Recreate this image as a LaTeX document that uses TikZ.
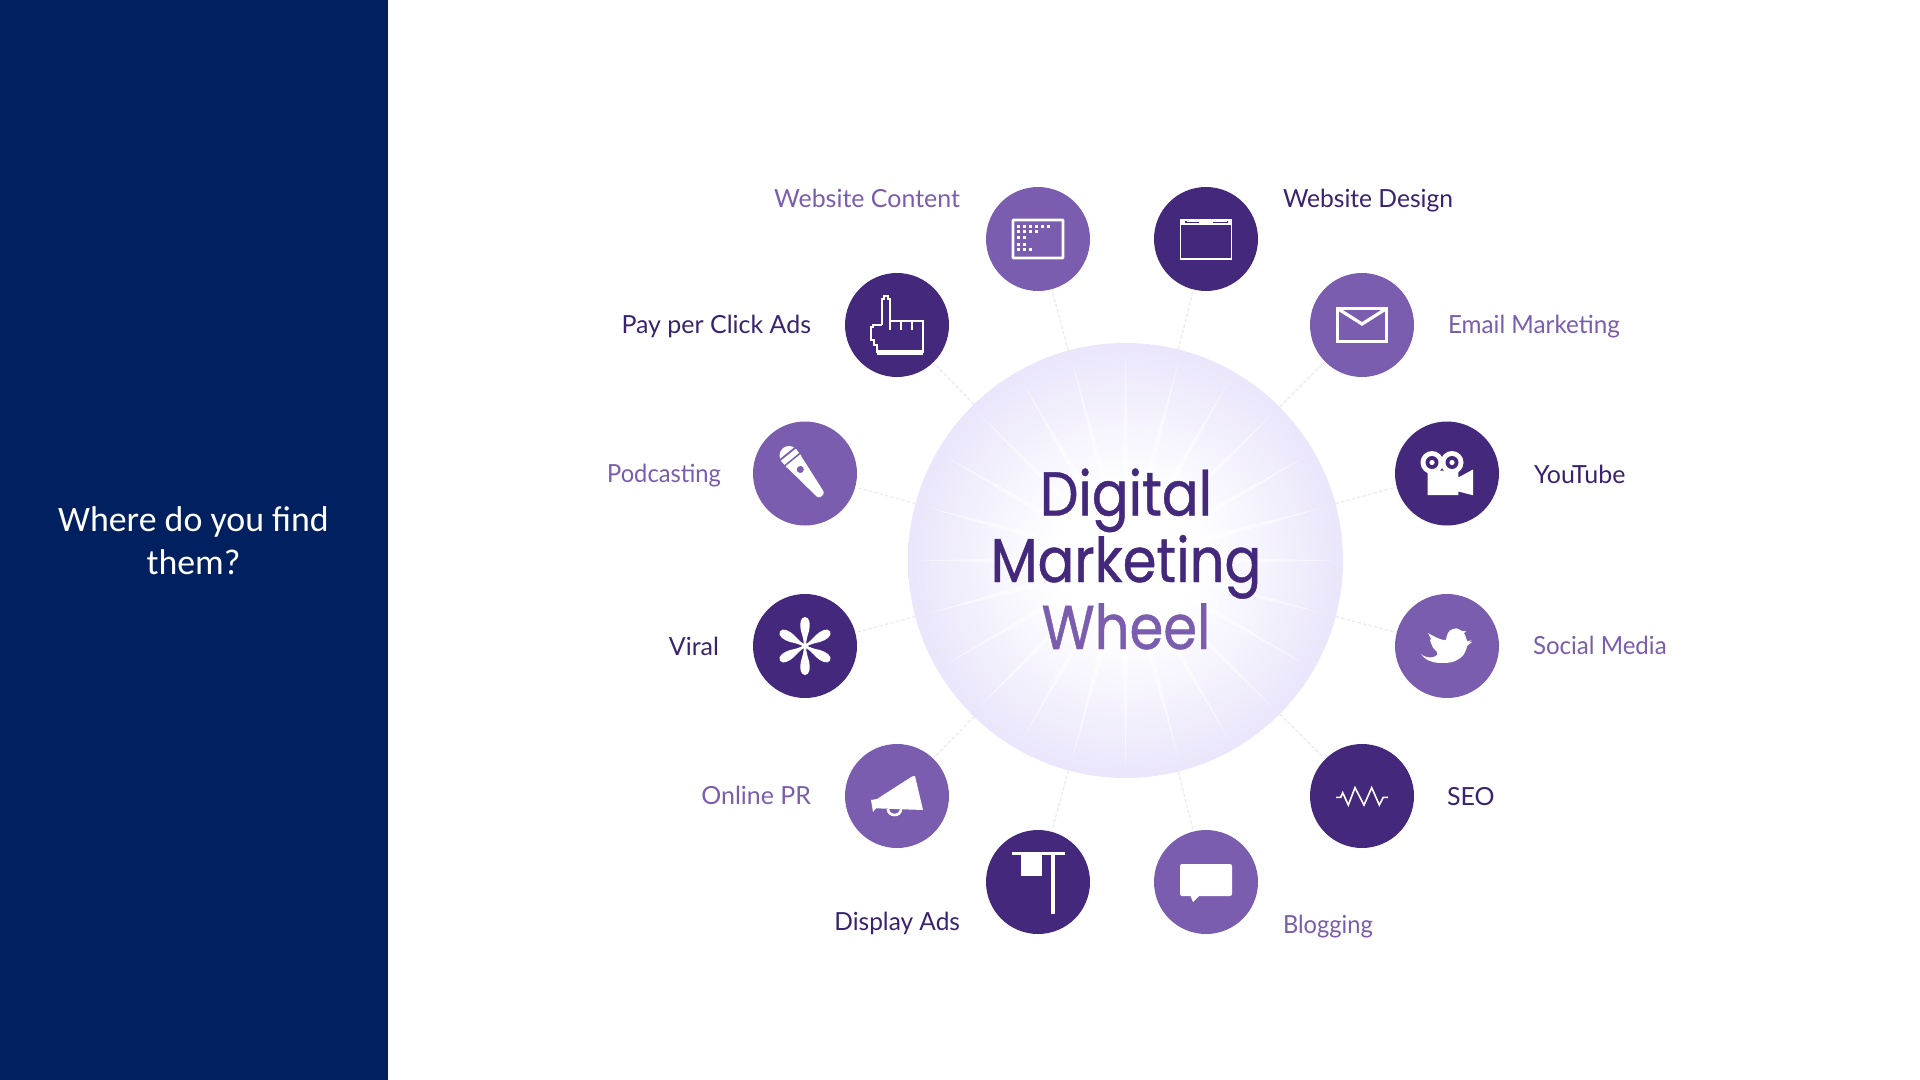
\documentclass[tikz,border=0pt]{standalone}
\usetikzlibrary{calc}
\usepackage{fontspec}
\setmainfont{Lato}
\newfontfamily\calfont{Carlito}
\newfontfamily\titlefont{Poppins}[FakeStretch=0.88,FakeBold=0.7]
\definecolor{navy}{HTML}{002060}
\definecolor{lightpurple}{HTML}{7A5DAE}
\definecolor{darkpurple}{HTML}{44287C}
\definecolor{labeldark}{HTML}{3A2270}
\definecolor{discedge}{HTML}{E9E4FB}
\definecolor{dashcol}{HTML}{ECE9F3}
\pgfdeclareradialshading{discglow}{\pgfpointorigin}{color(0bp)=(white); color(8bp)=(white); color(26bp)=(discedge); color(50bp)=(discedge)}
\tikzset{
  dotc/.style={circle,minimum size=5.2cm,inner sep=0pt,outer sep=0pt,fill=#1},
  lab/.style={font=\fontsize{35.5}{36}\selectfont,text=#1,inner sep=0pt,outer sep=0pt},
  ttl/.style={font=\titlefont\fontsize{88}{88}\selectfont,text=#1,inner sep=0pt,anchor=base},
  wline/.style={draw=white,line width=#1,line join=miter},
  dashline/.style={draw=dashcol,line width=0.06cm,dash pattern=on 5pt off 3pt}
}
\begin{document}
\begin{tikzpicture}[x=0.05cm,y=-0.05cm]
\useasboundingbox (0,0) rectangle (1920,1080);
\fill[white] (0,0) rectangle (1920,1080);
\fill[navy] (0,0) rectangle (388,1080);
\node[font=\calfont\fontsize{51}{52}\selectfont,text=white,inner sep=0pt,anchor=base] (side1) at (193.5,531) {Where do you find};
\node[font=\calfont\fontsize{51}{52}\selectfont,text=white,inner sep=0pt,anchor=base] (side2) at (193.5,574.5) {them?};

% hub
\node[circle,minimum size=21.75cm,inner sep=0pt,outer sep=0pt,shading=discglow] (hub) at (1125.5,560.5) {};
\foreach \a in {0,15,...,345}{
  \fill[white,opacity=0.5] ($(hub.center)+(\a:205)$) -- ($(hub.center)+(\a+3.2:65)$) -- ($(hub.center)+(\a-3.2:65)$) -- cycle;
}

% circles
\node[dotc=lightpurple] (wc) at (1038,239) {};
\node[dotc=darkpurple] (wd) at (1206,239) {};
\node[dotc=lightpurple] (em) at (1362,325) {};
\node[dotc=darkpurple] (yt) at (1447,473.5) {};
\node[dotc=lightpurple] (sm) at (1447,646) {};
\node[dotc=darkpurple] (seo) at (1362,796) {};
\node[dotc=lightpurple] (bl) at (1206,882) {};
\node[dotc=darkpurple] (da) at (1038,882) {};
\node[dotc=lightpurple] (pr) at (897,796) {};
\node[dotc=darkpurple] (vi) at (805,646) {};
\node[dotc=lightpurple] (po) at (805,473.5) {};
\node[dotc=darkpurple] (pc) at (897,325) {};

% connectors
\foreach \n in {wc,wd,em,yt,sm,seo,bl,da,pr,vi,po,pc}{
  \draw[dashline] (hub) -- (\n);
}

% title
\node[ttl=darkpurple] (t1) at (1126,515.5) {Digital};
\node[ttl=darkpurple] (t2) at (1126,582) {Marketing};
\node[ttl=lightpurple] (t3) at (1126,649) {Wheel};

% labels
\node[lab=lightpurple,anchor=base east] (lwc) at (960,207) {Website Content};
\node[lab=labeldark,anchor=base west] (lwd) at (1283,207) {\scalebox{0.986}[1]{Website Design}};
\node[lab=labeldark,anchor=base east] (lpc) at (811,333) {Pay per Click Ads};
\node[lab=lightpurple,anchor=base west] (lem) at (1448,333) {\scalebox{0.972}[1]{Email Marketing}};
\node[lab=lightpurple,anchor=base east] (lpo) at (721,482) {\scalebox{0.95}[1]{Podcasting}};
\node[lab=labeldark,anchor=base west] (lyt) at (1534,483) {YouTube};
\node[lab=labeldark,anchor=base east] (lvi) at (719,655) {Viral};
\node[lab=lightpurple,anchor=base west] (lsm) at (1533,654) {\scalebox{0.965}[1]{Social Media}};
\node[lab=lightpurple,anchor=base east] (lpr) at (811,804) {Online PR};
\node[lab=labeldark,anchor=base west] (lseo) at (1447,805) {SEO};
\node[lab=labeldark,anchor=base east] (lda) at (960,930) {\scalebox{0.98}[1]{Display Ads}};
\node[lab=lightpurple,anchor=base west] (lbl) at (1283,933) {\scalebox{0.95}[1]{Blogging}};

% icon: website content
\begin{scope}[shift={(wc.center)}]
  \draw[wline=0.14cm,rounded corners=1pt] (-25,-19) rectangle (25,19);
  \foreach \r/\n in {-13/6,-7.3/4,-1.3/2,5/2,10.3/3}{
    \foreach \c in {1,...,\n}{
      \fill[white] ({-26+6*\c-1.5},{\r-1.5}) rectangle ++(3,3);
    }
  }
\end{scope}
% icon: website design
\begin{scope}[shift={(wd.center)}]
  \draw[wline=0.08cm] (-25.5,-19) rectangle (25.5,20);
  \fill[white] (-25.5,-19.5) rectangle (25.5,-14.5);
  \fill[darkpurple] (-21,-18) rectangle (-19.5,-16);
  \fill[darkpurple] (-19.5,-17.5) rectangle (-7,-16);
  \fill[darkpurple] (7,-17.5) rectangle (20.5,-16);
  \fill[darkpurple] (20.5,-18) rectangle (22,-16);
\end{scope}
% icon: email
\begin{scope}[shift={(em.center)}]
  \draw[wline=0.16cm] (-24.5,-16.5) rectangle (24.5,16.5);
  \draw[wline=0.16cm] (-24.5,-16.5) -- (0,-1) -- (24.5,-16.5);
\end{scope}
% icon: hand cursor
\begin{scope}[shift={(pc.center)}]
  \draw[wline=0.11cm] (-15.3,0) -- (-15.3,-26) -- (-13,-26) -- (-13,-29) -- (-9,-29) -- (-9,-26) -- (-7,-26) -- (-7,5);
  \draw[wline=0.11cm] (-7,-4.3) -- (25.7,-4.3) -- (25.7,27) -- (-19.7,27) -- (-19.7,20) -- (-23,20) -- (-23,15) -- (-26.3,15) -- (-26.3,2) -- (-23.7,2) -- (-23.7,0) -- (-15.3,0);
  \draw[wline=0.11cm] (3.7,-4.3) -- (3.7,5) (14.7,-4.3) -- (14.7,5);
  \fill[white] (-19.7,25) rectangle (25.7,30);
\end{scope}
% icon: youtube camera
\begin{scope}[shift={(yt.center)}]
  \fill[white] (-19.3,-3) -- (11.3,-3) -- (11.3,4) -- (26,-4) -- (26,21.7) -- (11.3,18) -- (11.3,21.7) -- (-19.3,21.7) -- cycle;
  \fill[white] (-15,-11) circle (11.5);
  \fill[white] (5,-11) circle (11.5);
  \fill[darkpurple] (-15,-11) circle (6.5);
  \fill[darkpurple] (5,-11) circle (6.5);
  \fill[white] (-15,-11) circle (2.6);
  \fill[white] (5,-11) circle (2.6);
\end{scope}
% icon: twitter bird
\begin{scope}[shift={(sm.center)}]
  \fill[white] (-26,8) .. controls (-23,12) and (-20,14) .. (-17,15)
    .. controls (-12,17) and (-8,17) .. (-4,17)
    .. controls (2,17) and (7,16) .. (10,14)
    .. controls (14,12) and (17,9) .. (18,6)
    .. controls (19,4) and (20,2) .. (20,0)
    -- (25,-4) -- (21,-3.5) -- (25,-5.5) -- (20,-5)
    .. controls (19,-9) and (18,-11) .. (17,-13)
    -- (19,-15) -- (15,-15) -- (13,-16)
    .. controls (10,-18) and (8,-18) .. (6,-17)
    .. controls (3,-16) and (2,-15) .. (1,-13)
    .. controls (0,-11) and (-1,-8) .. (-1,-6)
    .. controls (-3,-6) and (-5,-6) .. (-7,-7)
    .. controls (-12,-9) and (-16,-11) .. (-19,-13)
    -- (-16,-7) -- (-17,-6) -- (-16,-3)
    .. controls (-15,0) and (-14,2) .. (-13,3)
    -- (-10,6) -- (-10,9)
    .. controls (-13,12) and (-20,13) .. (-26,8) -- cycle;
\end{scope}
% icon: seo wave
\begin{scope}[shift={(seo.center)}]
  \draw[draw=white,line width=0.08cm,line join=miter] (-26,1.3) -- (-21.3,1.3) -- (-19.3,-3.3) -- (-13.7,9) -- (-7,-8.3) -- (2,9) -- (9.7,-8.3) -- (17.3,9) -- (21.3,1.3) -- (26,1.3);
\end{scope}
% icon: blog bubble
\begin{scope}[shift={(bl.center)}]
  \fill[white,rounded corners=3pt] (-26,-18) rectangle (26,14);
  \fill[white] (-16,13) -- (-6,13) -- (-13,20) -- cycle;
\end{scope}
% icon: display ad flag
\begin{scope}[shift={(da.center)}]
  \fill[white] (-26,-30) rectangle (27,-27);
  \fill[white] (-17,-28) rectangle (4,-6);
  \fill[white] (13,-28) rectangle (16.5,32);
\end{scope}
% icon: megaphone
\begin{scope}[shift={(pr.center)}]
  \fill[white] (-26,4) -- (-24,16) -- (-21,12.3) -- (26,14) -- (18,-20) -- (15,-19.5) -- (-20,3) -- cycle;
  \draw[wline=0.13cm] (-9,13) .. controls (-9,21) and (4,21) .. (4,13);
\end{scope}
% icon: asterisk
\begin{scope}[shift={(vi.center)}]
  \foreach \a in {30,90,150,210,270,330}{
    \begin{scope}[rotate=\a]
      \fill[white] (0,-1.2) .. controls (6,-1) and (10,-2.5) .. (15,-4)
        .. controls (21,-5.5) and (29,-5) .. (29,0)
        .. controls (29,5) and (21,5.5) .. (15,4)
        .. controls (10,2.5) and (6,1) .. (0,1.2) -- cycle;
    \end{scope}
  }
\end{scope}
% icon: microphone
\begin{scope}[shift={(po.center)}]
  \begin{scope}[shift={(-16,-18)},rotate=-51]
    \fill[white,rounded corners=4pt] (4,-9.5) -- (52,-4) -- (52,4) -- (4,9.5) -- cycle;
    \fill[white] (0,0) circle (9.5);
    \fill[white] (-1,-9.4) rectangle (8,9.4);
    \fill[lightpurple] (-3,-11) rectangle (-1.2,11);
    \fill[lightpurple] (4.5,-11) rectangle (6,11);
    \fill[lightpurple] (18,0) circle (3.5);
  \end{scope}
\end{scope}
\end{tikzpicture}
\end{document}
